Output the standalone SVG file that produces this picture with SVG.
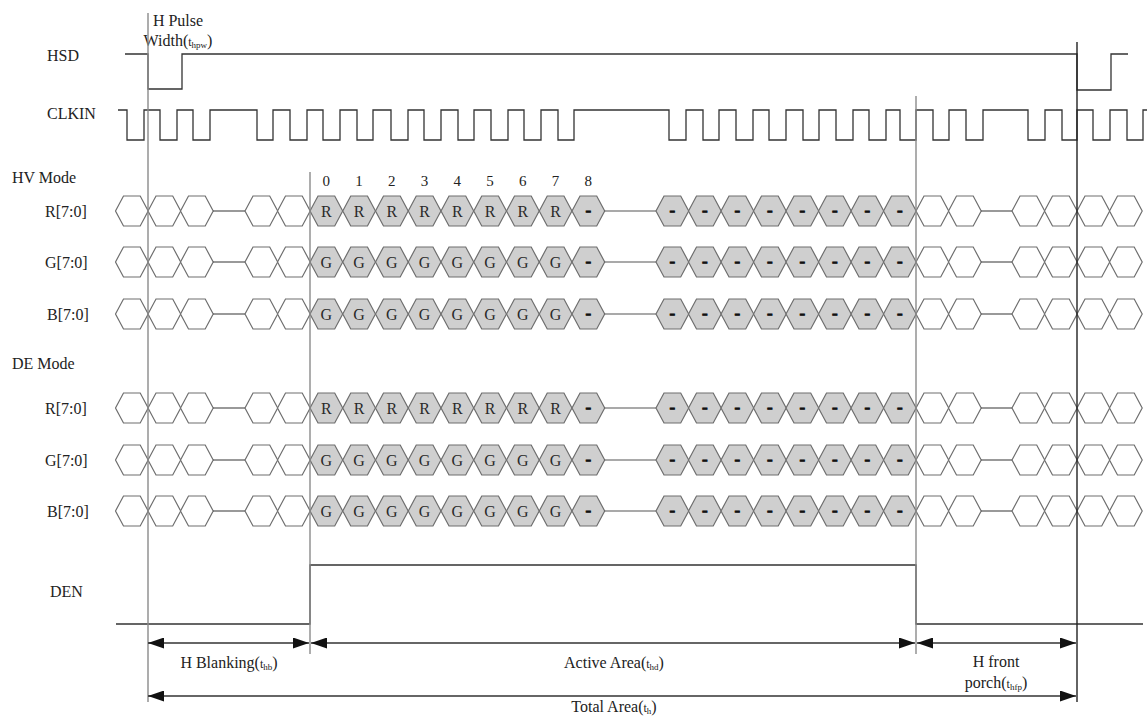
<svg xmlns="http://www.w3.org/2000/svg" xmlns:xlink="http://www.w3.org/1999/xlink" width="1147" height="718" viewBox="0 0 1147 718">
<style>
text{font-family:"Liberation Serif","Times New Roman",serif;fill:#222}
.lb{font-size:16px}
.num{font-size:15px;text-anchor:middle}
.cl{font-size:16px;text-anchor:middle;fill:#2a2a2a}
.ds{font-size:17px;font-weight:bold;text-anchor:middle;fill:#111;stroke:#111;stroke-width:0.9}
.cap{font-size:16px;text-anchor:middle}
.hw{fill:#fff;stroke:#6e6e6e;stroke-width:1.2}
.hg{fill:#cfcfcf;stroke:#6e6e6e;stroke-width:1.2}
.bus{stroke:#555;stroke-width:1.2;fill:none}
.wave{fill:none;stroke:#333;stroke-width:1.3}
.vg{stroke:#8a8a8a;stroke-width:1.4}
.vk{stroke:#222;stroke-width:1.4}
.dim{stroke:#333;stroke-width:1.3;marker-start:url(#ah);marker-end:url(#ah)}
</style>
<defs>
<marker id="ah" viewBox="0 0 16 11" refX="16" refY="5.5" markerWidth="16" markerHeight="11" markerUnits="userSpaceOnUse" orient="auto-start-reverse">
<path d="M0,0 L16,5.5 L0,11 Z" fill="#111"/>
</marker>
<path id="hx" d="M0,0 L8,-15 L24.7,-15 L32.7,0 L24.7,15 L8,15 Z"/>
<g id="row">
<use xlink:href="#hx" href="#hx" class="hw" x="115.5"/>
<use xlink:href="#hx" href="#hx" class="hw" x="148"/>
<use xlink:href="#hx" href="#hx" class="hw" x="180.5"/>
<line class="bus" x1="213" y1="0" x2="245" y2="0"/>
<use xlink:href="#hx" href="#hx" class="hw" x="245"/>
<use xlink:href="#hx" href="#hx" class="hw" x="277.5"/>
<use xlink:href="#hx" href="#hx" class="hg" x="310"/>
<use xlink:href="#hx" href="#hx" class="hg" x="342.75"/>
<use xlink:href="#hx" href="#hx" class="hg" x="375.5"/>
<use xlink:href="#hx" href="#hx" class="hg" x="408.25"/>
<use xlink:href="#hx" href="#hx" class="hg" x="441"/>
<use xlink:href="#hx" href="#hx" class="hg" x="473.75"/>
<use xlink:href="#hx" href="#hx" class="hg" x="506.5"/>
<use xlink:href="#hx" href="#hx" class="hg" x="539.25"/>
<use xlink:href="#hx" href="#hx" class="hg" x="572"/>
<line class="bus" x1="604.7" y1="0" x2="656" y2="0"/>
<use xlink:href="#hx" href="#hx" class="hg" x="656"/>
<use xlink:href="#hx" href="#hx" class="hg" x="688.5"/>
<use xlink:href="#hx" href="#hx" class="hg" x="721"/>
<use xlink:href="#hx" href="#hx" class="hg" x="753.5"/>
<use xlink:href="#hx" href="#hx" class="hg" x="786"/>
<use xlink:href="#hx" href="#hx" class="hg" x="818.5"/>
<use xlink:href="#hx" href="#hx" class="hg" x="851"/>
<use xlink:href="#hx" href="#hx" class="hg" x="883.5"/>
<use xlink:href="#hx" href="#hx" class="hw" x="916"/>
<use xlink:href="#hx" href="#hx" class="hw" x="948.5"/>
<line class="bus" x1="981" y1="0" x2="1012" y2="0"/>
<use xlink:href="#hx" href="#hx" class="hw" x="1012"/>
<use xlink:href="#hx" href="#hx" class="hw" x="1044.5"/>
<use xlink:href="#hx" href="#hx" class="hw" x="1077"/>
<use xlink:href="#hx" href="#hx" class="hw" x="1109.5"/>
</g>
</defs>
<rect width="1147" height="718" fill="#fff"/>

<g id="hsd">
<text class="lb" x="47" y="60.5">HSD</text>
<path class="wave" d="M125,54 H148 V89 H182 V54 H1077 V90 H1111 V54 H1128"/>
</g>
<g id="pulse-label">
<text class="cap" x="178" y="26">H Pulse</text>
<text class="cap" x="178" y="46">Width(<tspan font-size="12">t</tspan><tspan font-size="9" dy="2">hpw</tspan><tspan dy="-2">)</tspan></text>
</g>

<g id="clkin">
<text class="lb" x="47" y="118.5">CLKIN</text>
<path class="wave" d="M118,110 H127 V140 H144 V110 H160 V140 H177 V110 H193 V140 H210 V110 H257 V140 H273 V110 H290 V140 H307 V110 H323 V140 H340 V110 H357 V140 H373 V110 H391 V140 H408 V110 H424 V140 H441 V110 H458 V140 H474 V110 H491 V140 H508 V110 H524 V140 H541 V110 H558 V140 H574 V110 H669 V140 H686 V110 H703 V140 H719 V110 H736 V140 H753 V110 H769 V140 H786 V110 H803 V140 H819 V110 H836 V140 H853 V110 H869 V140 H886 V110 H900 V140 H916 V110 H933 V140 H949 V110 H966 V140 H983 V110 H1028 V140 H1045 V110 H1062 V140 H1077 V110 H1093 V140 H1110 V110 H1127 V140 H1143 V110 H1147"/>
</g>

<g id="hv-mode">
<text class="lb" x="12" y="182.5">HV Mode</text>
<text class="num" x="326.35" y="186">0</text>
<text class="num" x="359.1" y="186">1</text>
<text class="num" x="391.85" y="186">2</text>
<text class="num" x="424.6" y="186">3</text>
<text class="num" x="457.35" y="186">4</text>
<text class="num" x="490.1" y="186">5</text>
<text class="num" x="522.85" y="186">6</text>
<text class="num" x="555.6" y="186">7</text>
<text class="num" x="588.35" y="186">8</text>
</g>

<g id="hv-r">
<text class="lb" x="45" y="216.5">R[7:0]</text>
<use xlink:href="#row" href="#row" y="211"/>
<text class="cl" x="326.35" y="216.5">R</text><text class="cl" x="359.1" y="216.5">R</text><text class="cl" x="391.85" y="216.5">R</text><text class="cl" x="424.6" y="216.5">R</text><text class="cl" x="457.35" y="216.5">R</text><text class="cl" x="490.1" y="216.5">R</text><text class="cl" x="522.85" y="216.5">R</text><text class="cl" x="555.6" y="216.5">R</text>
<text class="ds" x="588.35" y="215.5">-</text><text class="ds" x="672.35" y="215.5">-</text><text class="ds" x="704.85" y="215.5">-</text><text class="ds" x="737.35" y="215.5">-</text><text class="ds" x="769.85" y="215.5">-</text><text class="ds" x="802.35" y="215.5">-</text><text class="ds" x="834.85" y="215.5">-</text><text class="ds" x="867.35" y="215.5">-</text><text class="ds" x="899.85" y="215.5">-</text>
</g>

<g id="hv-g">
<text class="lb" x="45" y="267.5">G[7:0]</text>
<use xlink:href="#row" href="#row" y="262"/>
<text class="cl" x="326.35" y="267.5">G</text><text class="cl" x="359.1" y="267.5">G</text><text class="cl" x="391.85" y="267.5">G</text><text class="cl" x="424.6" y="267.5">G</text><text class="cl" x="457.35" y="267.5">G</text><text class="cl" x="490.1" y="267.5">G</text><text class="cl" x="522.85" y="267.5">G</text><text class="cl" x="555.6" y="267.5">G</text>
<text class="ds" x="588.35" y="266.5">-</text><text class="ds" x="672.35" y="266.5">-</text><text class="ds" x="704.85" y="266.5">-</text><text class="ds" x="737.35" y="266.5">-</text><text class="ds" x="769.85" y="266.5">-</text><text class="ds" x="802.35" y="266.5">-</text><text class="ds" x="834.85" y="266.5">-</text><text class="ds" x="867.35" y="266.5">-</text><text class="ds" x="899.85" y="266.5">-</text>
</g>

<g id="hv-b">
<text class="lb" x="47" y="319.5">B[7:0]</text>
<use xlink:href="#row" href="#row" y="314"/>
<text class="cl" x="326.35" y="319.5">G</text><text class="cl" x="359.1" y="319.5">G</text><text class="cl" x="391.85" y="319.5">G</text><text class="cl" x="424.6" y="319.5">G</text><text class="cl" x="457.35" y="319.5">G</text><text class="cl" x="490.1" y="319.5">G</text><text class="cl" x="522.85" y="319.5">G</text><text class="cl" x="555.6" y="319.5">G</text>
<text class="ds" x="588.35" y="318.5">-</text><text class="ds" x="672.35" y="318.5">-</text><text class="ds" x="704.85" y="318.5">-</text><text class="ds" x="737.35" y="318.5">-</text><text class="ds" x="769.85" y="318.5">-</text><text class="ds" x="802.35" y="318.5">-</text><text class="ds" x="834.85" y="318.5">-</text><text class="ds" x="867.35" y="318.5">-</text><text class="ds" x="899.85" y="318.5">-</text>
</g>

<g id="de-mode">
<text class="lb" x="12" y="368.5">DE Mode</text>
</g>

<g id="de-r">
<text class="lb" x="45" y="413.5">R[7:0]</text>
<use xlink:href="#row" href="#row" y="408"/>
<text class="cl" x="326.35" y="413.5">R</text><text class="cl" x="359.1" y="413.5">R</text><text class="cl" x="391.85" y="413.5">R</text><text class="cl" x="424.6" y="413.5">R</text><text class="cl" x="457.35" y="413.5">R</text><text class="cl" x="490.1" y="413.5">R</text><text class="cl" x="522.85" y="413.5">R</text><text class="cl" x="555.6" y="413.5">R</text>
<text class="ds" x="588.35" y="412.5">-</text><text class="ds" x="672.35" y="412.5">-</text><text class="ds" x="704.85" y="412.5">-</text><text class="ds" x="737.35" y="412.5">-</text><text class="ds" x="769.85" y="412.5">-</text><text class="ds" x="802.35" y="412.5">-</text><text class="ds" x="834.85" y="412.5">-</text><text class="ds" x="867.35" y="412.5">-</text><text class="ds" x="899.85" y="412.5">-</text>
</g>

<g id="de-g">
<text class="lb" x="45" y="465.5">G[7:0]</text>
<use xlink:href="#row" href="#row" y="460"/>
<text class="cl" x="326.35" y="465.5">G</text><text class="cl" x="359.1" y="465.5">G</text><text class="cl" x="391.85" y="465.5">G</text><text class="cl" x="424.6" y="465.5">G</text><text class="cl" x="457.35" y="465.5">G</text><text class="cl" x="490.1" y="465.5">G</text><text class="cl" x="522.85" y="465.5">G</text><text class="cl" x="555.6" y="465.5">G</text>
<text class="ds" x="588.35" y="464.5">-</text><text class="ds" x="672.35" y="464.5">-</text><text class="ds" x="704.85" y="464.5">-</text><text class="ds" x="737.35" y="464.5">-</text><text class="ds" x="769.85" y="464.5">-</text><text class="ds" x="802.35" y="464.5">-</text><text class="ds" x="834.85" y="464.5">-</text><text class="ds" x="867.35" y="464.5">-</text><text class="ds" x="899.85" y="464.5">-</text>
</g>

<g id="de-b">
<text class="lb" x="47" y="516.5">B[7:0]</text>
<use xlink:href="#row" href="#row" y="511"/>
<text class="cl" x="326.35" y="516.5">G</text><text class="cl" x="359.1" y="516.5">G</text><text class="cl" x="391.85" y="516.5">G</text><text class="cl" x="424.6" y="516.5">G</text><text class="cl" x="457.35" y="516.5">G</text><text class="cl" x="490.1" y="516.5">G</text><text class="cl" x="522.85" y="516.5">G</text><text class="cl" x="555.6" y="516.5">G</text>
<text class="ds" x="588.35" y="515.5">-</text><text class="ds" x="672.35" y="515.5">-</text><text class="ds" x="704.85" y="515.5">-</text><text class="ds" x="737.35" y="515.5">-</text><text class="ds" x="769.85" y="515.5">-</text><text class="ds" x="802.35" y="515.5">-</text><text class="ds" x="834.85" y="515.5">-</text><text class="ds" x="867.35" y="515.5">-</text><text class="ds" x="899.85" y="515.5">-</text>
</g>

<g id="den">
<text class="lb" x="50" y="596.5">DEN</text>
<path class="wave" d="M116,624 H310 V565 H916 V624 H1143"/>
</g>

<g id="connectors">
<line class="vg" x1="148" y1="13" x2="148" y2="702"/>
<line class="vg" x1="310" y1="172" x2="310" y2="654"/>
<line class="vg" x1="916" y1="96" x2="916" y2="654"/>
<line class="vk" x1="1077" y1="42" x2="1077" y2="702"/>
<line class="dim" x1="148" y1="643" x2="309" y2="643"/>
<line class="dim" x1="311" y1="643" x2="915" y2="643"/>
<line class="dim" x1="917" y1="643" x2="1076" y2="643"/>
<line class="dim" x1="148" y1="696" x2="1076" y2="696"/>
</g>

<g id="dim-labels">
<text class="cap" x="229" y="668">H Blanking(<tspan font-size="12">t</tspan><tspan font-size="9" dy="2">hb</tspan><tspan dy="-2">)</tspan></text>
<text class="cap" x="614" y="668">Active Area(<tspan font-size="12">t</tspan><tspan font-size="9" dy="2">hd</tspan><tspan dy="-2">)</tspan></text>
<text class="cap" x="996" y="667">H front</text>
<text class="cap" x="996" y="688">porch(<tspan font-size="12">t</tspan><tspan font-size="9" dy="2">hfp</tspan><tspan dy="-2">)</tspan></text>
<text class="cap" x="614" y="712">Total Area(<tspan font-size="12">t</tspan><tspan font-size="9" dy="2">h</tspan><tspan dy="-2">)</tspan></text>
</g>
</svg>
